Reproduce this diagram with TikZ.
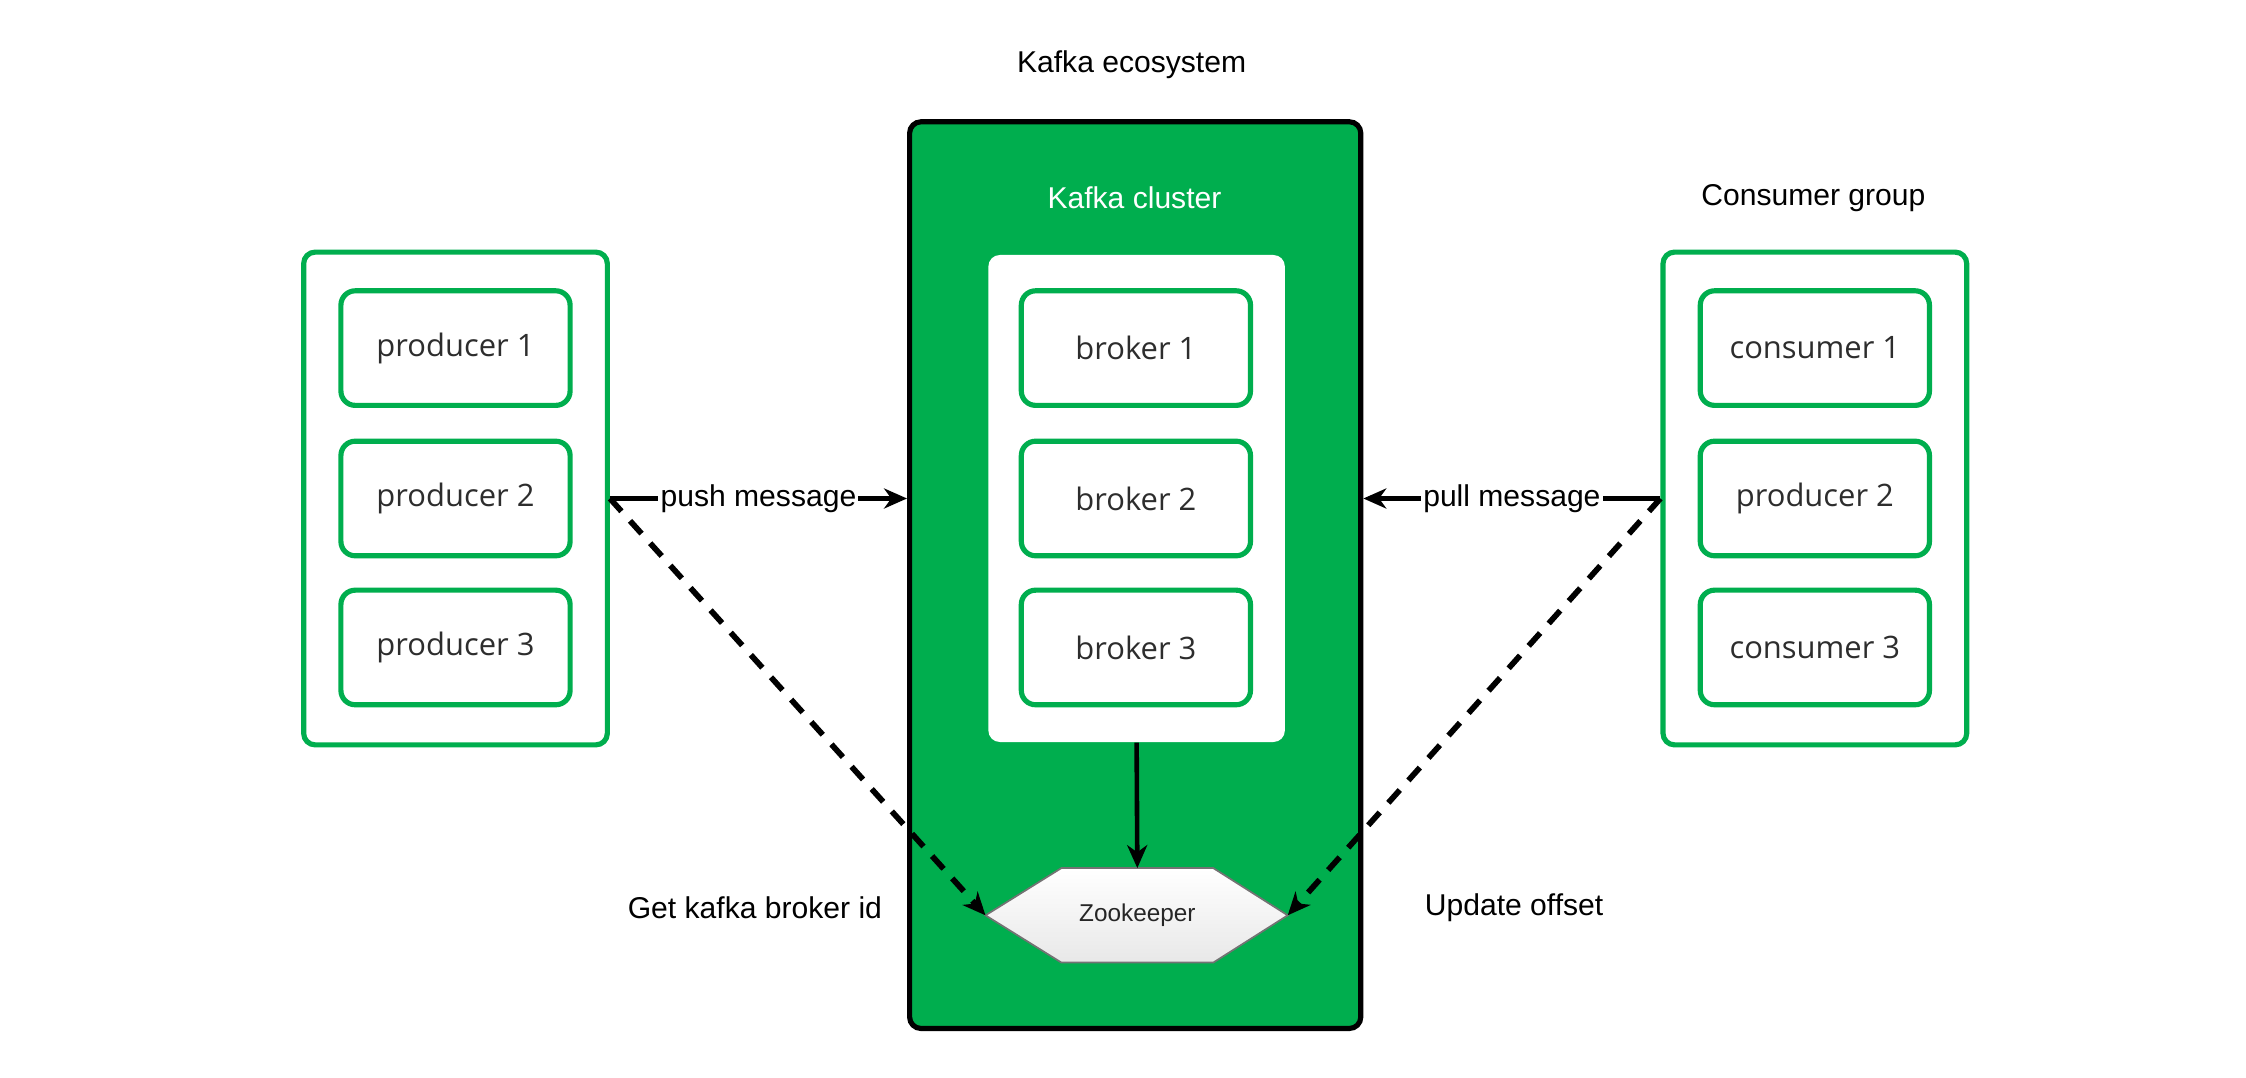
\documentclass[tikz,border=0pt]{standalone}
\usepackage{fontspec}
\setmainfont{Liberation Sans}
\newfontfamily\boxfont{Open Sans}
\usetikzlibrary{arrows.meta}
\definecolor{KafkaGreen}{RGB}{0,174,78}
\definecolor{BoxText}{RGB}{45,45,45}

\begin{document}
\begin{tikzpicture}[x=0.5pt,y=0.5pt,yscale=-1,xscale=1,
		groupbox/.style={draw=KafkaGreen, line width=1.8pt, rounded corners=4pt, fill=white, minimum width=106pt, minimum height=172pt},
		memberbox/.style={draw=KafkaGreen, line width=1.8pt, rounded corners=5pt, minimum width=80pt, minimum height=40pt, font=\boxfont\fontsize{10.8}{12}\selectfont, text=BoxText},
		txt/.style={font=\fontsize{10.5}{12}\selectfont, inner sep=0.75pt},
		msg/.style={line width=2pt, -{Stealth[length=8pt,width=7pt,inset=2.5pt]}}]
		% Set diagram size
		\useasboundingbox (0,0) rectangle (1568,752);

		% Title on top
		\node[txt] (eco) at (790,45) {Kafka ecosystem};

		% The green Kafka cluster with its white broker panel
		\node[draw=black, fill=KafkaGreen, line width=1.8pt, rounded corners=4pt, minimum width=157.5pt, minimum height=316.5pt] (cluster) at (792.5,401.5) {};
		\node[txt, text=white] (clustertitle) at (792,138) {Kafka cluster};
		\node[fill=white, rounded corners=4pt, minimum width=103.5pt, minimum height=170pt] (brokers) at (793.5,348) {};

		% Producer group on the left
		\node[groupbox] (pgroup) at (318,348) {};
		\node[memberbox] (p1) at (318,243) {producer 1};
		\node[memberbox] (p2) at (318,348) {producer 2};
		\node[memberbox] (p3) at (318,452) {producer 3};

		% Brokers
		\node[memberbox] (b1) at (793,243) {broker 1};
		\node[memberbox] (b2) at (793,348) {broker 2};
		\node[memberbox] (b3) at (793,452) {broker 3};

		% Consumer group on the right
		\node[txt] (cgtitle) at (1266,138) {Consumer group};
		\node[groupbox] (cgroup) at (1267,348) {};
		\node[memberbox] (c1) at (1267,243) {consumer 1};
		\node[memberbox] (c2) at (1267,348) {producer 2};
		\node[memberbox] (c3) at (1267,452) {consumer 3};

		% Zookeeper hexagon
		\coordinate (zkL) at (688,639);
		\coordinate (zkTL) at (741,606);
		\coordinate (zkTR) at (847,606);
		\coordinate (zkR) at (899,639);
		\coordinate (zkBR) at (847,672);
		\coordinate (zkBL) at (741,672);
		\coordinate (zkT) at (794,606);
		\shadedraw[top color=white, bottom color=black!9, draw=black!55, line width=0.6pt] (zkL) -- (zkTL) -- (zkTR) -- (zkR) -- (zkBR) -- (zkBL) -- cycle;
		\node[font=\fontsize{8.5}{10}\selectfont, text=black!85] (zk) at (794,639) {Zookeeper};

		% Push and pull arrows
		\draw[msg] (pgroup.east) -- (pgroup.east -| cluster.west) node[midway, fill=white, txt] (push) {push message};
		\draw[msg] (cgroup.west) -- (cgroup.west -| cluster.east) node[midway, fill=white, txt] (pull) {pull message};

		% Dashed arrows to Zookeeper
		\draw[msg, dash pattern=on 6pt off 4.5pt] (pgroup.east) -- (zkL);
		\draw[msg, dash pattern=on 6pt off 4.5pt] (cgroup.west) -- (zkR);

		% Brokers to Zookeeper
		\draw[msg, line width=1.6pt] (brokers.south) -- (zkT);

		% Bottom labels
		\node[txt] (getid) at (527,634) {Get kafka broker id};
		\node[txt] (offset) at (1057,634) {Update offset};
	\end{tikzpicture}
\end{document}
